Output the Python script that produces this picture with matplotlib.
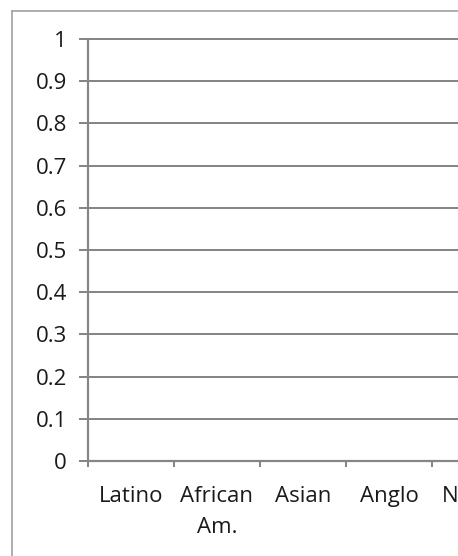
import matplotlib
matplotlib.use("Agg")
import matplotlib.pyplot as plt
from matplotlib.lines import Line2D

# Chart content
categories = ["Latino", "African\nAm.", "Asian", "Anglo", "Native"]
y_ticks = [0, 0.1, 0.2, 0.3, 0.4, 0.5, 0.6, 0.7, 0.8, 0.9, 1]
y_tick_labels = ["0", "0.1", "0.2", "0.3", "0.4", "0.5", "0.6", "0.7", "0.8", "0.9", "1"]

W, H = 458, 556
DPI = 100
PT = 72 / DPI  # points per pixel
fig = plt.figure(figsize=(W / DPI, H / DPI), dpi=DPI)
fig.patch.set_facecolor("white")

plt.rcParams["font.family"] = ["Open Sans", "DejaVu Sans"]

grey = "#868686"
text_color = "#1a1a1a"
fs = 16

# plot area: each category occupies a fixed slot, the area runs past the right edge
slot_px = 86
left_px, bottom_px, top_px = 88, 461, 39
ax = fig.add_axes([left_px / W, 1 - bottom_px / H,
                   slot_px * len(categories) / W, (bottom_px - top_px) / H])

ax.set_xlim(0, len(categories))
ax.set_ylim(0, 1)

ax.set_yticks(y_ticks)
ax.set_yticklabels(y_tick_labels)
ax.yaxis.grid(True, color=grey, linewidth=2 * PT)
ax.set_axisbelow(True)
for gl in ax.get_ygridlines():
    gl.set_clip_on(False)

ax.set_xticks(range(len(categories) + 1))
ax.set_xticklabels([])
ax.set_xticks([i + 0.5 for i in range(len(categories))], minor=True)
ax.set_xticklabels(categories, minor=True, multialignment="center",
                   linespacing=1.6)

for s in ["top", "right"]:
    ax.spines[s].set_visible(False)
for s in ["left", "bottom"]:
    ax.spines[s].set_color(grey)
    ax.spines[s].set_linewidth(2.2 * PT)

ax.tick_params(axis="y", which="major", direction="out", length=9 * PT,
               width=2 * PT, color=grey, pad=12 * PT, labelsize=fs,
               labelcolor=text_color)
ax.tick_params(axis="x", which="major", direction="out", length=6 * PT,
               width=2 * PT, color=grey)
ax.tick_params(axis="x", which="minor", length=0, pad=18, labelsize=fs,
               labelcolor=text_color)

# outer chart border
bx = 11.5 / W
by = 1 - 10.5 / H
fig.add_artist(Line2D([bx, bx], [-0.1, by], color="#a6a6a6", linewidth=1.8 * PT,
                      transform=fig.transFigure))
fig.add_artist(Line2D([bx, 1.1], [by, by], color="#a6a6a6", linewidth=1.8 * PT,
                      transform=fig.transFigure))

fig.savefig("out.png", dpi=DPI, facecolor="white")
